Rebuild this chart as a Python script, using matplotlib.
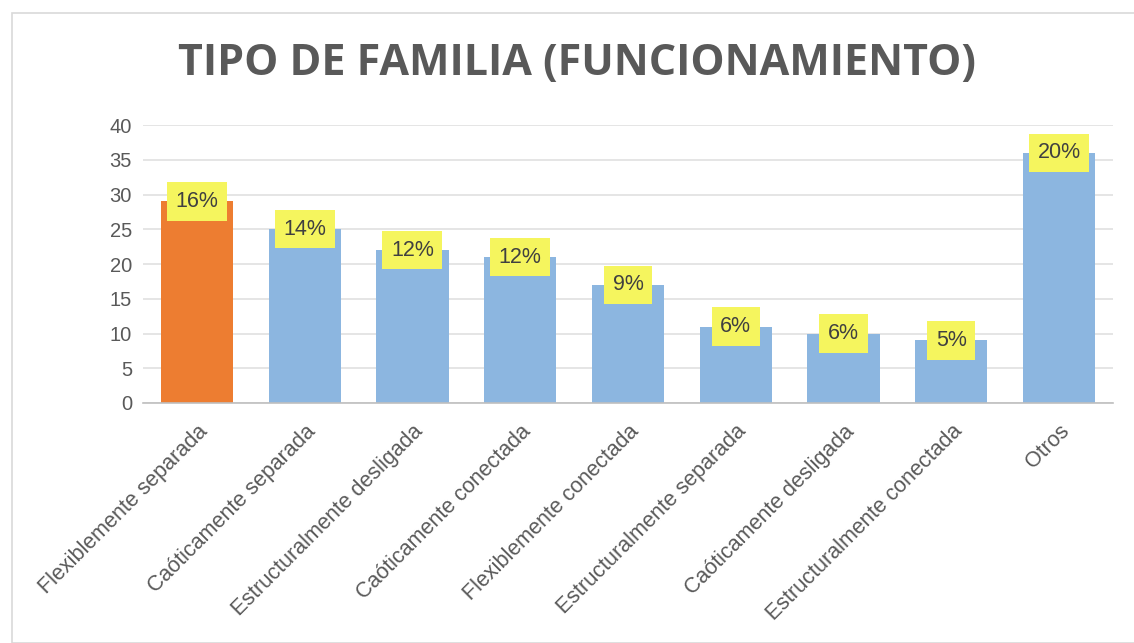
import matplotlib
matplotlib.use("Agg")
import matplotlib.pyplot as plt
from matplotlib.patches import Rectangle

categories = ["Flexiblemente separada", "Caóticamente separada", "Estructuralmente desligada",
              "Caóticamente conectada", "Flexiblemente conectada", "Estructuralmente separada",
              "Caóticamente desligada", "Estructuralmente conectada", "Otros"]
values = [29, 25, 22, 21, 17, 11, 10, 9, 36]
pct_labels = ["16%", "14%", "12%", "12%", "9%", "6%", "6%", "5%", "20%"]
colors = ["#ED7D31"] + ["#8CB6E0"] * 8
yticks = [0, 5, 10, 15, 20, 25, 30, 35, 40]

plt.rcParams['font.family'] = ['Open Sans', 'DejaVu Sans']

W, H = 1134, 643
fig = plt.figure(figsize=(W / 100, H / 100), dpi=100)
ax = fig.add_axes([143 / W, 1 - 403 / H, (1113 - 143) / W, (403 - 125) / H])

x = list(range(len(categories)))
bars = ax.bar(x, values, width=0.67, color=colors, zorder=2)
ax.set_xlim(-0.5, len(categories) - 0.5)
ax.set_ylim(0, 40)
ax.set_yticks(yticks)
ax.yaxis.grid(True, color="#E0E0E0", linewidth=1.2, zorder=0)
ax.set_axisbelow(True)
for s in ["top", "right", "left"]:
    ax.spines[s].set_visible(False)
ax.spines["bottom"].set_color("#BFBFBF")
ax.spines["bottom"].set_linewidth(1.2)
ax.tick_params(axis="y", length=0, labelsize=14.5, labelcolor="#595959", pad=8)
ax.tick_params(axis="x", length=0, labelsize=15.5, labelcolor="#595959", pad=13)
ax.set_xticks(x)
ax.set_xticklabels(categories, rotation=45, ha="right", rotation_mode="anchor")
for lab in ax.get_yticklabels() + ax.get_xticklabels():
    lab.set_family(["Liberation Sans", "DejaVu Sans"])

for xi, v, lab in zip(x, values, pct_labels):
    ax.text(xi, v, lab, ha="center", va="center", fontsize=15.5, color="#404040",
            family=["Liberation Sans", "DejaVu Sans"],
            bbox=dict(boxstyle="square,pad=0.4", facecolor="#F5F55E", edgecolor="none"), zorder=4)

fig.text(577 / W, 1 - 64 / H, "TIPO DE FAMILIA (FUNCIONAMIENTO)", ha="center", va="center",
         fontsize=31, fontweight="bold", color="#595959")

border = Rectangle((12 / W, 0), 1 - 12 / W + 0.01, 1 - 13 / H, transform=fig.transFigure,
                   fill=False, edgecolor="#D9D9D9", linewidth=1.2)
fig.patches.append(border)

fig.savefig("out.png", dpi=100, facecolor="white")
